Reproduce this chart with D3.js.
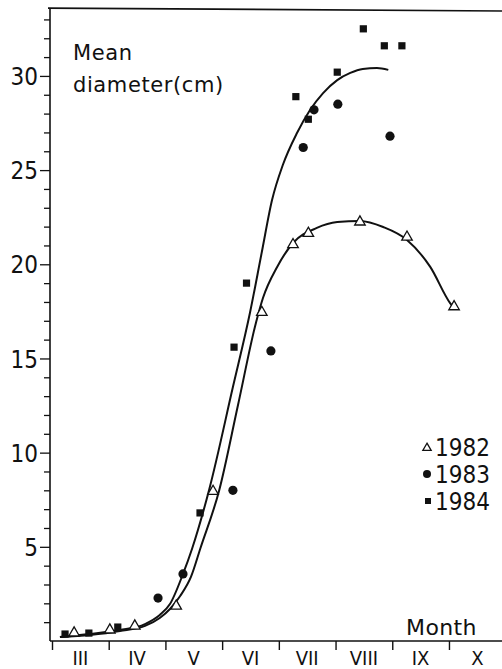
<!DOCTYPE html>
<html><head><meta charset="utf-8">
<script src="https://cdn.jsdelivr.net/npm/d3@7"></script>
<style>
html,body{margin:0;padding:0;background:#fff;}
svg{display:block;}
text{fill:#111;}
</style></head>
<body>
<script>
// ---- data ----
const monthLabels = ["III","IV","V","VI","VII","VIII","IX","X"];
const monthStarts = [3,4,5,6,7,8,9,10];
const yTickLabels = [5,10,15,20,25,30];
const legendYears = ["1982","1983","1984"];
// observations: [month (fractional), mean diameter cm]
const obs1982 = [[3.39,0.48],[4.02,0.64],[4.46,0.85],[5.19,1.91],[5.84,8.0],[6.70,17.5],[7.25,21.1],[7.52,21.7],[8.43,22.3],[9.26,21.5],[10.09,17.8]];
const obs1983 = [[4.87,2.28],[5.31,3.56],[6.19,8.0],[6.86,15.4],[7.43,26.2],[7.62,28.2],[8.04,28.5],[8.96,26.8]];
const obs1984 = [[3.23,0.37],[3.65,0.42],[4.16,0.74],[5.61,6.8],[6.21,15.6],[6.43,19.0],[7.30,28.9],[7.52,27.7],[8.03,30.2],[8.49,32.5],[8.86,31.6],[9.17,31.6]];
// fitted curves
const curveUpper = [[3.14,0.21],[3.67,0.37],[4.20,0.58],[4.64,0.90],[4.90,1.38],[5.08,1.96],[5.31,3.56],[5.47,4.9],[5.77,8.02],[6.19,13.48],[6.49,17.41],[6.70,20.65],[6.88,23.41],[7.07,25.27],[7.32,26.97],[7.55,28.19],[7.78,29.09],[8.03,29.78],[8.26,30.16],[8.48,30.37],[8.73,30.42],[8.93,30.32]];
const curveLower = [[3.14,0.21],[3.67,0.32],[4.20,0.53],[4.64,0.80],[4.90,1.22],[5.08,1.70],[5.26,2.39],[5.45,3.4],[5.62,4.95],[5.95,8.02],[6.28,12.53],[6.60,16.94],[6.72,18.21],[6.97,19.86],[7.25,21.13],[7.67,21.93],[8.03,22.24],[8.43,22.30],[8.84,21.98],[9.26,21.29],[9.67,19.86],[10.02,17.94],[10.09,17.68]];

const W = 502, H = 669;
const svg = d3.select("body").append("svg").attr("width", W).attr("height", H);

const x = d3.scaleLinear().domain([3, 10.9]).range([52, 52 + 7.9 * 56.71]);
const y = d3.scaleLinear().domain([0, 33.5]).range([641, 10]);
const ink = "#111";

// frame: left axis, top line, bottom axis
svg.append("line").attr("x1", 50).attr("x2", 50).attr("y1", y(33.6)).attr("y2", 641)
  .attr("stroke", ink).attr("stroke-width", 1.6);
svg.append("line").attr("x1", 48).attr("x2", W).attr("y1", y(33.6)).attr("y2", y(33.45))
  .attr("stroke", ink).attr("stroke-width", 1.6);
svg.append("line").attr("x1", 50).attr("x2", W).attr("y1", 641).attr("y2", 641)
  .attr("stroke", ink).attr("stroke-width", 1.6);

// y ticks
const yAxis = d3.axisLeft(y).tickValues(d3.range(1, 34)).tickSize(6)
  .tickFormat(d => yTickLabels.includes(d) ? d : "");
const gy = svg.append("g").attr("transform", "translate(50,0)").call(yAxis);
gy.select(".domain").remove();
gy.selectAll(".tick line").attr("stroke", ink).attr("stroke-width", 1.3)
  .attr("x2", d => yTickLabels.includes(d) ? -10 : -6);
gy.selectAll(".tick text").attr("x", -12).attr("dy", "0.36em")
  .style("font-family", "'DejaVu Sans Condensed','DejaVu Sans',sans-serif")
  .style("font-size", "24px").attr("fill", ink);

// x ticks (month boundaries) and labels
const xAxis = d3.axisBottom(x).tickValues(monthStarts).tickSize(9).tickFormat("");
const gx = svg.append("g").attr("transform", "translate(0,641)").call(xAxis);
gx.select(".domain").remove();
gx.selectAll(".tick line").attr("stroke", ink).attr("stroke-width", 1.4);
svg.selectAll("text.month").data(monthLabels).enter().append("text")
  .attr("class", "month")
  .attr("x", (d, i) => x(monthStarts[i] + 0.5))
  .attr("y", 665)
  .attr("text-anchor", "middle")
  .style("font-family", "'DejaVu Sans Condensed','DejaVu Sans',sans-serif")
  .style("font-size", "20px")
  .text(d => d);

// titles
const tf = "'DejaVu Sans',sans-serif";
svg.append("text").attr("x", 73).attr("y", 60).style("font-family", tf).style("font-size", "21px")
  .style("letter-spacing", "0.6px").text("Mean");
svg.append("text").attr("x", 73).attr("y", 92).style("font-family", tf).style("font-size", "21px")
  .style("letter-spacing", "0.6px").text("diameter(cm)");
svg.append("text").attr("x", 406).attr("y", 635).style("font-family", tf).style("font-size", "22px")
  .style("letter-spacing", "0.4px").text("Month");

// curves
const line = d3.line().x(d => x(d[0])).y(d => y(d[1])).curve(d3.curveMonotoneX);
[curveUpper, curveLower].forEach(c => {
  svg.append("path").attr("d", line(c)).attr("fill", "none").attr("stroke", ink).attr("stroke-width", 2);
});

// markers
const tri = d3.symbol().type(d3.symbolTriangle).size(48);
const triSmall = d3.symbol().type(d3.symbolTriangle).size(30);
function drawTri(g, px, py, small) {
  g.append("path").attr("d", small ? triSmall() : tri()).attr("transform", `translate(${px},${py + 1})`)
    .attr("fill", "#fff").attr("stroke", ink).attr("stroke-width", 1.3);
}
function drawCircle(g, px, py) {
  g.append("circle").attr("cx", px).attr("cy", py).attr("r", 4.6).attr("fill", ink);
}
function drawSquare(g, px, py) {
  g.append("rect").attr("x", px - 3.6).attr("y", py - 3.6).attr("width", 7.2).attr("height", 7.2).attr("fill", ink);
}
const gm = svg.append("g");
obs1984.forEach(d => drawSquare(gm, x(d[0]), y(d[1])));
obs1983.forEach(d => drawCircle(gm, x(d[0]), y(d[1])));
obs1982.forEach(d => drawTri(gm, x(d[0]), y(d[1]), false));

// legend
const lg = svg.append("g");
legendYears.forEach((yr, i) => {
  const base = 456 + i * 27;
  if (i === 0) drawTri(lg, 427, base - 9, true);
  else if (i === 1) lg.append("circle").attr("cx", 427).attr("cy", base - 9).attr("r", 4).attr("fill", ink);
  else lg.append("rect").attr("x", 425).attr("y", base - 12).attr("width", 6).attr("height", 6).attr("fill", ink);
  lg.append("text").attr("x", 435).attr("y", base)
    .style("font-family", "'DejaVu Sans Condensed','DejaVu Sans',sans-serif")
    .style("font-size", "24px").text(yr);
});
</script>
</body></html>
